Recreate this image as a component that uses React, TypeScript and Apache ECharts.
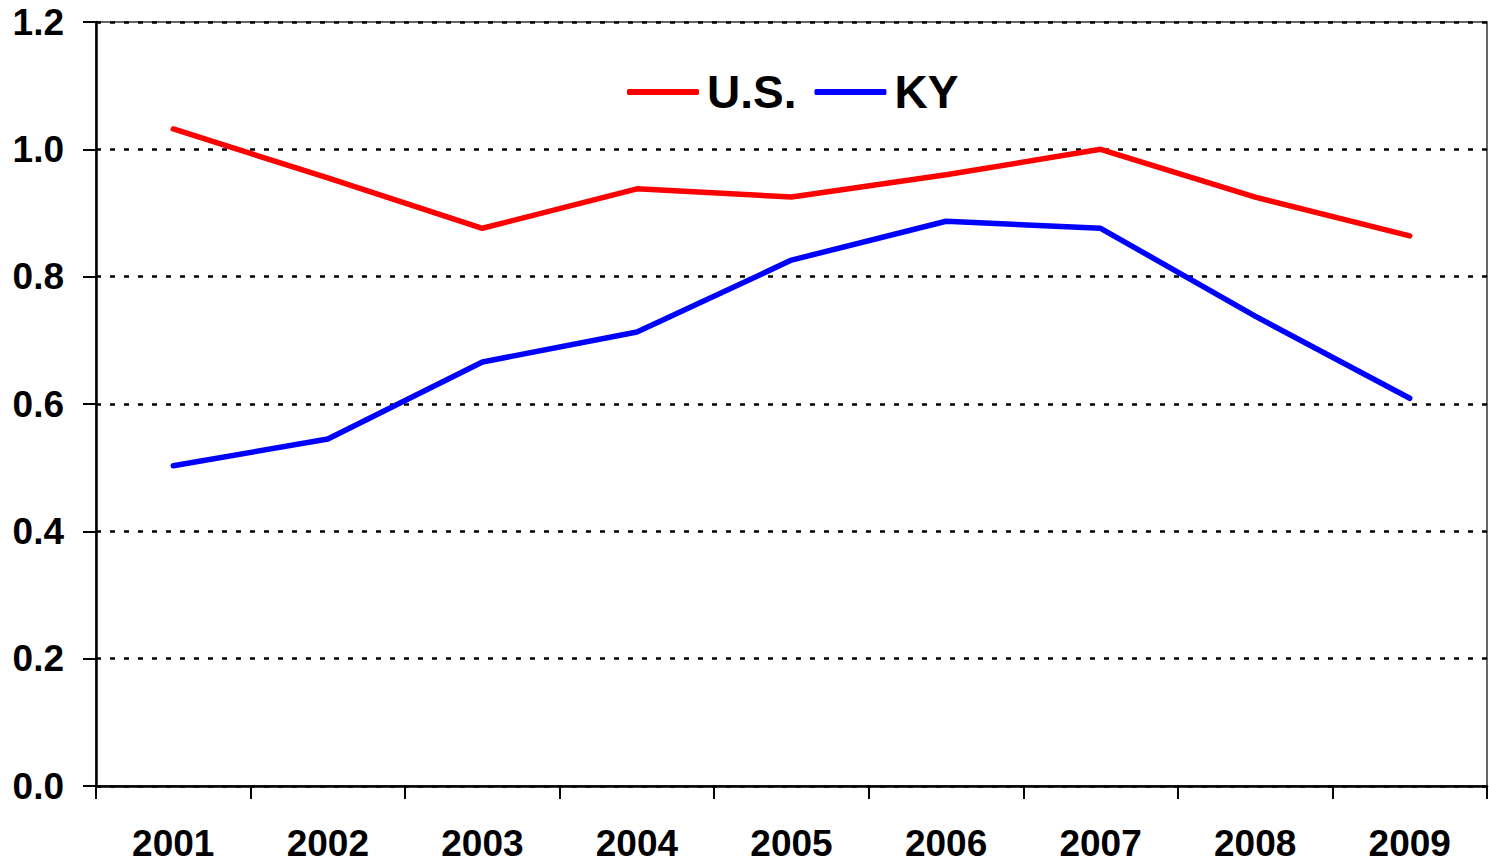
import React, { useEffect, useRef } from "react";
import * as echarts from "echarts";

const years = ["2001", "2002", "2003", "2004", "2005", "2006", "2007", "2008", "2009"];
const usValues = [1.032, 0.955, 0.876, 0.938, 0.925, 0.960, 1.0, 0.925, 0.864];
const kyValues = [0.503, 0.545, 0.666, 0.713, 0.826, 0.887, 0.876, 0.738, 0.609];
const seriesNames = ["U.S.", "KY"];
const seriesColors = ["#FF0000", "#0000FF"];

const FONT = "Arial, 'Liberation Sans', sans-serif";

export default function App() {
  const ref = useRef<HTMLDivElement>(null);
  useEffect(() => {
    if (!ref.current) return;
    const chart = echarts.init(ref.current, null, { renderer: "svg" });
    chart.setOption({
      animation: false,
      backgroundColor: "#fff",
      grid: {
        left: 96,
        right: 2,
        top: 22,
        bottom: 80,
        show: true,
        borderColor: "#333",
        borderWidth: 1.5,
        backgroundColor: "transparent",
      },
      legend: {
        left: 622,
        top: 64,
        icon: "roundRect",
        itemWidth: 72,
        itemHeight: 6,
        itemGap: 18,
        data: seriesNames,
        textStyle: {
          fontFamily: FONT,
          fontWeight: "bold",
          fontSize: 46,
          color: "#000",
          padding: [0, 0, 0, 3],
        },
      },
      xAxis: {
        type: "category",
        data: years,
        boundaryGap: true,
        axisLine: { show: true, lineStyle: { color: "#000", width: 2.5 } },
        axisTick: { show: true, length: 13, lineStyle: { color: "#000", width: 2 } },
        axisLabel: {
          fontFamily: FONT,
          fontWeight: "bold",
          fontSize: 37,
          color: "#000",
          margin: 39,
        },
        splitLine: { show: false },
      },
      yAxis: {
        type: "value",
        min: 0,
        max: 1.2,
        interval: 0.2,
        axisLine: { show: true, lineStyle: { color: "#000", width: 2.5 } },
        axisTick: { show: true, length: 13, lineStyle: { color: "#000", width: 2 } },
        axisLabel: {
          fontFamily: FONT,
          fontWeight: "bold",
          fontSize: 37,
          color: "#000",
          margin: 32,
          formatter: (v: number) => v.toFixed(1),
        },
        splitLine: {
          show: true,
          lineStyle: { color: "#000", width: 2.5, type: [5, 9] },
        },
      },
      series: [
        {
          name: seriesNames[0],
          type: "line",
          data: usValues,
          symbol: "none",
          lineStyle: { color: seriesColors[0], width: 5.5, cap: "round", join: "round" },
          itemStyle: { color: seriesColors[0] },
        },
        {
          name: seriesNames[1],
          type: "line",
          data: kyValues,
          symbol: "none",
          lineStyle: { color: seriesColors[1], width: 5.5, cap: "round", join: "round" },
          itemStyle: { color: seriesColors[1] },
        },
      ],
    });
    return () => chart.dispose();
  }, []);
  return <div ref={ref} style={{ width: 1489, height: 866, position: "absolute", left: 0, top: 0 }} />;
}
